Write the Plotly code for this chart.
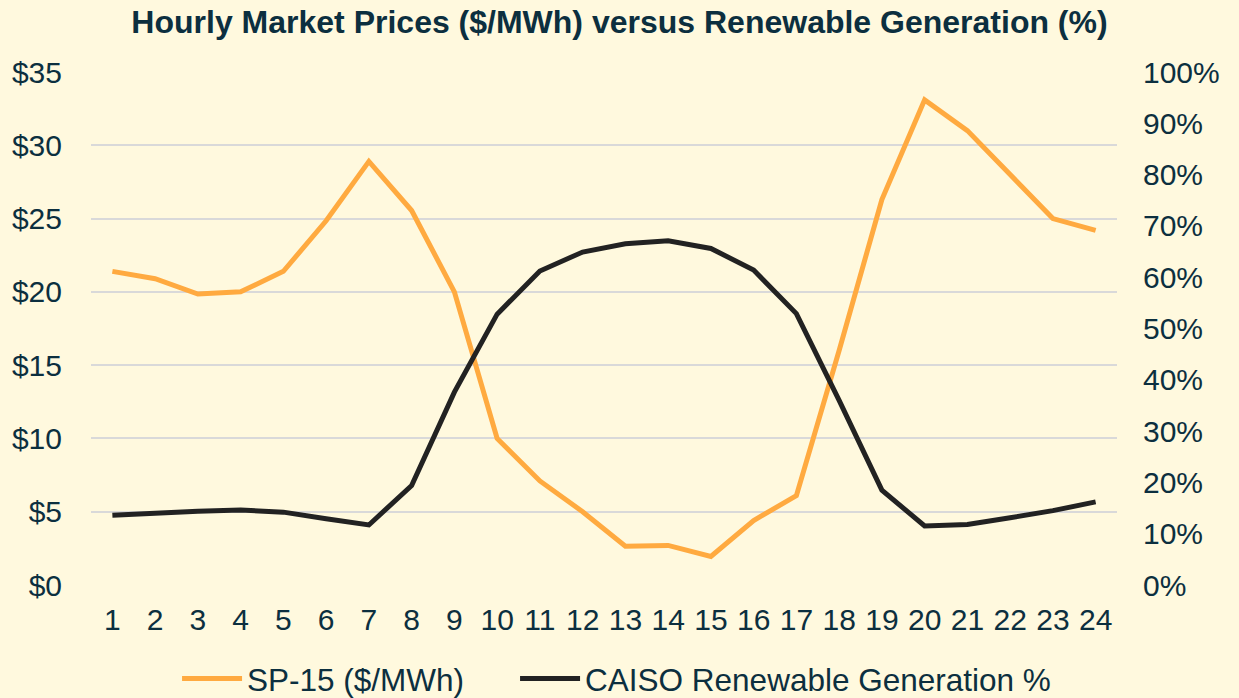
import plotly.graph_objects as go

hours = [str(h) for h in range(1, 25)]
sp15_price = [21.4, 20.9, 19.85, 20.0, 21.4, 24.85, 28.9, 25.55, 20.0, 10.0, 7.1, 5.0,
              2.65, 2.7, 1.95, 4.4, 6.1, 16.0, 26.3, 33.1, 31.0, 28.0, 25.0, 24.2]
caiso_renew_pct = [13.6, 14.1, 14.4, 14.6, 14.2, 12.9, 11.7, 19.4, 37.6, 52.8, 61.2, 64.9,
                   66.5, 67.1, 65.6, 61.4, 52.9, 36.0, 18.5, 11.5, 11.8, 13.1, 14.5, 16.2]

text_color = "#0C2F3F"
bg = "#FFF9DE"

fig = go.Figure()
fig.add_trace(go.Scatter(x=hours, y=sp15_price, mode="lines", name="SP-15 ($/MWh)",
                         line=dict(color="#FFAA40", width=5), legend="legend"))
fig.add_trace(go.Scatter(x=hours, y=[v / 100 for v in caiso_renew_pct], mode="lines",
                         name="CAISO Renewable Generation %", yaxis="y2",
                         line=dict(color="#222222", width=5), legend="legend2"))

legend_common = dict(orientation="h", xanchor="left", xref="container",
                     y=0.028, yanchor="middle", yref="container",
                     font=dict(size=31.5, color=text_color), bgcolor="rgba(0,0,0,0)",
                     itemwidth=60)

fig.update_layout(
    width=1239, height=698,
    paper_bgcolor=bg, plot_bgcolor=bg,
    font=dict(family="Liberation Sans, Arial, sans-serif", size=30, color=text_color),
    title=dict(text="<b>Hourly Market Prices ($/MWh) versus Renewable Generation (%)</b>",
               x=0.5, xanchor="center", y=0.9685, yanchor="middle",
               font=dict(size=32, color=text_color)),
    margin=dict(l=91, r=122, t=72, b=113),
    showlegend=True,
    legend=dict(x=0.1429, **legend_common),
    legend2=dict(x=0.4157, **legend_common),
    xaxis=dict(type="category", range=[-0.5, 23.5], showgrid=False, zeroline=False,
               showline=False, ticks="", ticklabelstandoff=14,
               tickfont=dict(size=30, color=text_color)),
    yaxis=dict(range=[0, 35], dtick=5, tickprefix="$", showgrid=True, gridcolor="#D9D9D9",
               gridwidth=1.5, zeroline=False, showline=False, ticks="",
               ticklabelstandoff=28, tickfont=dict(size=30, color=text_color)),
    yaxis2=dict(range=[0, 1], dtick=0.1, tickformat=".0%", overlaying="y", side="right",
                showgrid=False, zeroline=False, showline=False, ticks="",
                ticklabelstandoff=25, tickfont=dict(size=30, color=text_color)),
)

fig.write_html("out.html", config={"displayModeBar": False},
               post_script="document.body.style.margin='0';document.body.style.overflow='hidden';")
